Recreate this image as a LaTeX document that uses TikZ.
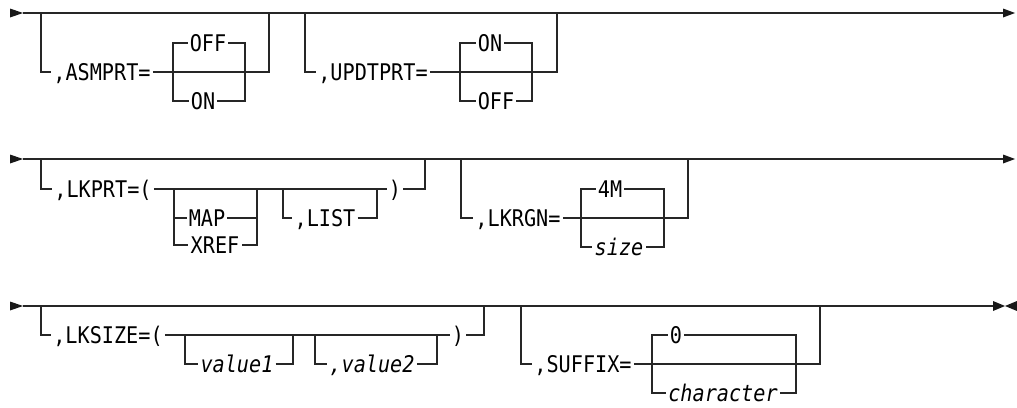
\documentclass[tikz,border=0pt]{standalone}
\usepackage{fontspec}
\newfontfamily\rrfont[FakeStretch=0.88]{DejaVu Sans Mono}
\begin{document}
\begin{tikzpicture}[x=0.75pt,y=-0.75pt,
  rail/.style={draw=black!85,line width=0.95pt,line join=miter},
  tip/.style={fill=black!90},
  lbl/.style={font=\rrfont\fontsize{17.2pt}{20pt}\selectfont,text=black,inner xsep=1.5pt,inner ysep=0pt,text height=12.5pt,text depth=0pt},
  var/.style={lbl,font=\rrfont\itshape\fontsize{17.2pt}{20pt}\selectfont}]
\useasboundingbox (0,0) rectangle (1017,407);

% ================= Row 1 =================
\coordinate (r1s) at (23,13); \coordinate (r1e) at (1003,13);
\fill[tip] (10,8.5) -- (r1s) -- (10,17.5) -- cycle;
\fill[tip] (1003,8.5) -- (1015,13) -- (1003,17.5) -- cycle;
\draw[rail] (r1s) -- (r1e);

% ,ASMPRT=
\coordinate (asmL) at (41,13); \coordinate (asmR) at (269,13);
\coordinate (asmCL) at (173,72); \coordinate (asmCR) at (245,72);
\node[lbl] (asm) at (102,72) {,ASMPRT=};
\node[lbl] (off1) at (208,43) {OFF};
\node[lbl] (on1) at (203,101) {ON};
\draw[rail] (asmL) |- (asm.west);
\draw[rail] (asm.east) -- (asmCL) -- (asmCR) -| (asmR);
\draw[rail] (off1.west) -| (asmCL) |- (on1.west);
\draw[rail] (off1.east) -| (asmCR) |- (on1.east);

% ,UPDTPRT=
\coordinate (updL) at (305,13); \coordinate (updR) at (557,13);
\coordinate (updCL) at (460,72); \coordinate (updCR) at (532,72);
\node[lbl] (upd) at (373,72) {,UPDTPRT=};
\node[lbl] (on2) at (490,43) {ON};
\node[lbl] (off2) at (496,101) {OFF};
\draw[rail] (updL) |- (upd.west);
\draw[rail] (upd.east) -- (updCL) -- (updCR) -| (updR);
\draw[rail] (on2.west) -| (updCL) |- (off2.west);
\draw[rail] (on2.east) -| (updCR) |- (off2.east);

% ================= Row 2 =================
\coordinate (r2s) at (23,159); \coordinate (r2e) at (1003,159);
\fill[tip] (10,154.5) -- (r2s) -- (10,163.5) -- cycle;
\fill[tip] (1003,154.5) -- (1015,159) -- (1003,163.5) -- cycle;
\draw[rail] (r2s) -- (r2e);

% ,LKPRT=(
\coordinate (lkL) at (41,159); \coordinate (lkR) at (425,159);
\coordinate (lkCL) at (174,189); \coordinate (lkCR) at (257,189);
\coordinate (lstL) at (283,189); \coordinate (lstR) at (377,189);
\node[lbl] (lkprt) at (103,189) {,LKPRT=(};
\node[lbl] (map) at (207,218) {MAP};
\node[lbl] (xref) at (215,245) {XREF};
\node[lbl] (list) at (325,218) {,LIST};
\node[lbl] (rp1) at (395,189) {)};
\draw[rail] (lkL) |- (lkprt.west);
\draw[rail] (lkprt.east) -- (lkCL) -- (lkCR) -- (lstL) -- (lstR) -- (rp1.west);
\draw[rail] (rp1.east) -| (lkR);
\draw[rail] (lkCL) |- (xref.west);
\draw[rail] (lkCL |- map.west) -- (map.west);
\draw[rail] (lkCR) |- (xref.east);
\draw[rail] (map.east) -- (lkCR |- map.east);
\draw[rail] (lstL) |- (list.west);
\draw[rail] (list.east) -| (lstR);

% ,LKRGN=
\coordinate (rgL) at (461,159); \coordinate (rgR) at (688,159);
\coordinate (rgCL) at (581,218); \coordinate (rgCR) at (664,218);
\node[lbl] (lkrgn) at (518,218) {,LKRGN=};
\node[lbl] (m4) at (610,189) {4M};
\node[var] (size) at (619,247) {size};
\draw[rail] (rgL) |- (lkrgn.west);
\draw[rail] (lkrgn.east) -- (rgCL) -- (rgCR) -| (rgR);
\draw[rail] (m4.west) -| (rgCL) |- (size.west);
\draw[rail] (m4.east) -| (rgCR) |- (size.east);

% ================= Row 3 =================
\coordinate (r3s) at (23,306); \coordinate (r3e) at (993,306);
\fill[tip] (10,301.5) -- (r3s) -- (10,310.5) -- cycle;
\fill[tip] (993,301) -- (1005,306) -- (993,311) -- cycle;
\fill[tip] (1017,301) -- (1005,306) -- (1017,311) -- cycle;
\draw[rail] (r3s) -- (r3e);

% ,LKSIZE=(
\coordinate (szL) at (41,306); \coordinate (szR) at (484,306);
\coordinate (v1L) at (185,335); \coordinate (v1R) at (293,335);
\coordinate (v2L) at (315,335); \coordinate (v2R) at (437,335);
\node[lbl] (lksize) at (108,335) {,LKSIZE=(};
\node[var] (v1) at (237,364) {value1};
\node[var] (v2) at (372,364) {,value2};
\node[lbl] (rp2) at (458,335) {)};
\draw[rail] (szL) |- (lksize.west);
\draw[rail] (lksize.east) -- (v1L) -- (v1R) -- (v2L) -- (v2R) -- (rp2.west);
\draw[rail] (rp2.east) -| (szR);
\draw[rail] (v1L) |- (v1.west);
\draw[rail] (v1.east) -| (v1R);
\draw[rail] (v2L) |- (v2.west);
\draw[rail] (v2.east) -| (v2R);

% ,SUFFIX=
\coordinate (sfL) at (521,306); \coordinate (sfR) at (820,306);
\coordinate (sfCL) at (652,364); \coordinate (sfCR) at (796,364);
\node[lbl] (suffix) at (583,364) {,SUFFIX=};
\node[lbl] (zero) at (676,335) {0};
\node[var] (chr) at (723,393) {character};
\draw[rail] (sfL) |- (suffix.west);
\draw[rail] (suffix.east) -- (sfCL) -- (sfCR) -| (sfR);
\draw[rail] (zero.west) -| (sfCL) |- (chr.west);
\draw[rail] (zero.east) -| (sfCR) |- (chr.east);
\end{tikzpicture}
\end{document}
